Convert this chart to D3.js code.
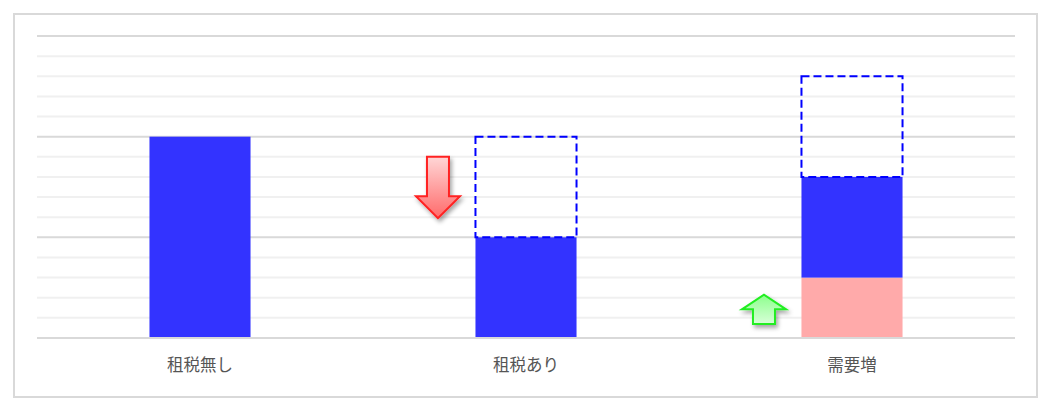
<!DOCTYPE html>
<html>
<head>
<meta charset="utf-8">
<script src="https://cdn.jsdelivr.net/npm/d3@7"></script>
<style>
    body { margin: 0; background: #fff; }
    svg { display: block; }
</style>
</head>
<body>
<svg id="chart"></svg>
<script>
// data
const categories = ["租税無し", "租税あり", "需要増"];
const baseValues = [0, 0, 3];        // pink segment
const blueValues = [10, 5, 5];       // solid blue segment
const dashedValues = [0, 5, 5];      // dashed outline segment on top
// arrow annotations: category, from value, to value
const arrowCats = ["租税あり", "需要増"];
const arrowFrom = [9, 0.7];
const arrowTo = [5.95, 2.15];
const yTicks = d3.range(0, 16);

const width = 1050, height = 407;
const margin = { top: 36, right: 35, bottom: 69, left: 37 };

const svg = d3.select("#chart")
    .attr("width", width)
    .attr("height", height);

// outer frame
svg.append("rect")
    .attr("x", 14).attr("y", 14)
    .attr("width", 1023).attr("height", 383)
    .attr("fill", "none")
    .attr("stroke", "#d9d9d9")
    .attr("stroke-width", 2);

const xScale = d3.scaleBand()
    .domain(categories)
    .range([margin.left, width - margin.right])
    .padding(0);

const yScale = d3.scaleLinear()
    .domain([0, 15])
    .range([height - margin.bottom, margin.top]);

const barWidth = xScale.bandwidth() * 0.31;
const barX = c => xScale(c) + (xScale.bandwidth() - barWidth) / 2;

const defs = svg.append("defs");

const shadow = defs.append("filter").attr("id", "shadow")
    .attr("x", "-30%").attr("y", "-30%").attr("width", "160%").attr("height", "160%");
shadow.append("feDropShadow")
    .attr("dx", 2).attr("dy", 3).attr("stdDeviation", 2)
    .attr("flood-color", "#000").attr("flood-opacity", 0.35);

const redGrad = defs.append("linearGradient").attr("id", "redGrad")
    .attr("x1", 0).attr("y1", 0).attr("x2", 0).attr("y2", 1);
redGrad.append("stop").attr("offset", "0%").attr("stop-color", "#ffd6d6");
redGrad.append("stop").attr("offset", "100%").attr("stop-color", "#ff6a6a");

const greenGrad = defs.append("linearGradient").attr("id", "greenGrad")
    .attr("x1", 0).attr("y1", 0).attr("x2", 0).attr("y2", 1);
greenGrad.append("stop").attr("offset", "0%").attr("stop-color", "#8cff8c");
greenGrad.append("stop").attr("offset", "100%").attr("stop-color", "#d8ffd8");

// gridlines
svg.append("g")
    .selectAll("line")
    .data(yTicks.slice(1))
    .join("line")
    .attr("x1", margin.left)
    .attr("x2", width - margin.right)
    .attr("y1", d => yScale(d))
    .attr("y2", d => yScale(d))
    .attr("stroke", d => d % 5 === 0 ? "#d9d9d9" : "#f0f0f0")
    .attr("stroke-width", 2);

const rows = categories.map((c, i) => ({
    cat: c, base: baseValues[i], blue: blueValues[i], dashed: dashedValues[i]
}));

// pink base
svg.append("g")
    .selectAll("rect")
    .data(rows.filter(d => d.base > 0))
    .join("rect")
    .attr("x", d => barX(d.cat))
    .attr("y", d => yScale(d.base))
    .attr("width", barWidth)
    .attr("height", d => yScale(0) - yScale(d.base))
    .attr("fill", "#ffaaaa");

// blue bars
svg.append("g")
    .selectAll("rect")
    .data(rows)
    .join("rect")
    .attr("x", d => barX(d.cat))
    .attr("y", d => yScale(d.base + d.blue))
    .attr("width", barWidth)
    .attr("height", d => yScale(d.base) - yScale(d.base + d.blue))
    .attr("fill", "#3333ff");

// baseline
svg.append("line")
    .attr("x1", margin.left).attr("x2", width - margin.right)
    .attr("y1", yScale(0)).attr("y2", yScale(0))
    .attr("stroke", "#d9d9d9").attr("stroke-width", 2);

// dashed outlines
svg.append("g")
    .selectAll("rect")
    .data(rows.filter(d => d.dashed > 0))
    .join("rect")
    .attr("x", d => barX(d.cat))
    .attr("y", d => yScale(d.base + d.blue + d.dashed))
    .attr("width", barWidth)
    .attr("height", d => yScale(d.base + d.blue) - yScale(d.base + d.blue + d.dashed))
    .attr("fill", "none")
    .attr("stroke", "#0000ff")
    .attr("stroke-width", 2)
    .attr("stroke-dasharray", "8,4");

// arrows, placed just left of the bar
function arrowPath(cx, y0, y1) {
    const dir = y1 > y0 ? 1 : -1;
    const len = Math.abs(y1 - y0);
    const head = Math.min(22, len * 0.5);
    const sw = 11, hw = 22;
    const yb = y1 - dir * head;
    return d3.line()([
        [cx - sw, y0], [cx + sw, y0], [cx + sw, yb], [cx + hw, yb],
        [cx, y1], [cx - hw, yb], [cx - sw, yb]
    ]) + "Z";
}

const arrows = arrowCats.map((c, i) => ({ cat: c, from: arrowFrom[i], to: arrowTo[i] }));

svg.append("g")
    .selectAll("path")
    .data(arrows)
    .join("path")
    .attr("d", d => arrowPath(barX(d.cat) - 37.5, yScale(d.from), yScale(d.to)))
    .attr("fill", d => d.to < d.from ? "url(#redGrad)" : "url(#greenGrad)")
    .attr("stroke", d => d.to < d.from ? "#ff2020" : "#22ee22")
    .attr("stroke-width", 2)
    .attr("stroke-linejoin", "miter")
    .attr("filter", "url(#shadow)");

// category labels
svg.append("g")
    .selectAll("text")
    .data(categories)
    .join("text")
    .attr("x", d => xScale(d) + xScale.bandwidth() / 2)
    .attr("y", 365)
    .attr("dy", "0.35em")
    .attr("text-anchor", "middle")
    .attr("font-family", "'Noto Sans CJK JP', 'Noto Sans', sans-serif")
    .attr("font-size", "16.5px")
    .attr("fill", "#555")
    .text(d => d);
</script>
</body>
</html>
